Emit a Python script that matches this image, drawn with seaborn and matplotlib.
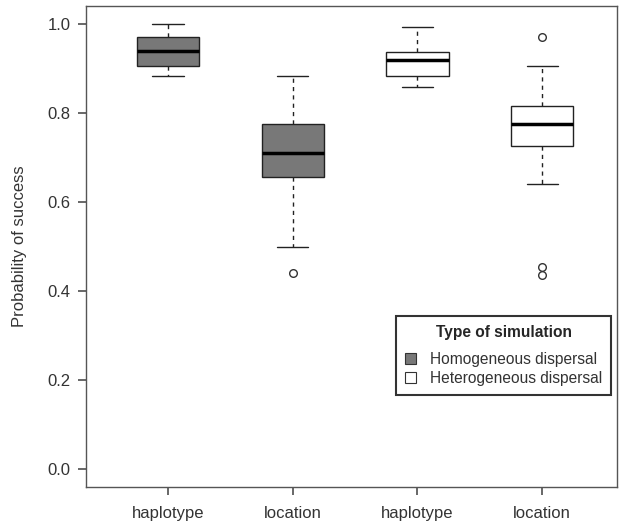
import numpy as np
import pandas as pd
import matplotlib.pyplot as plt
import seaborn as sns
from matplotlib.patches import Patch

# Values (13 per group, chosen to give the drawn quartiles/whiskers/outliers)
homog_haplotype = [0.882, 0.882, 0.882, 0.906, 0.906, 0.938, 0.938, 0.938, 0.970, 0.970, 1.000, 1.000, 1.000]
homog_location = [0.441, 0.500, 0.500, 0.657, 0.657, 0.709, 0.709, 0.709, 0.775, 0.775, 0.882, 0.882, 0.882]
hetero_haplotype = [0.858, 0.858, 0.858, 0.882, 0.882, 0.918, 0.918, 0.918, 0.936, 0.936, 0.993, 0.993, 0.993]
hetero_location = [0.436, 0.455, 0.640, 0.725, 0.725, 0.775, 0.775, 0.775, 0.815, 0.815, 0.906, 0.906, 0.971]

tick_labels = ["haplotype", "location", "haplotype", "location"]
sim_types = ["Homogeneous dispersal", "Heterogeneous dispersal"]
box_colors = {"Homogeneous dispersal": "#787878", "Heterogeneous dispersal": "white"}

groups = [homog_haplotype, homog_location, hetero_haplotype, hetero_location]
group_types = [sim_types[0], sim_types[0], sim_types[1], sim_types[1]]
rows = []
for pos, (vals, t) in enumerate(zip(groups, group_types)):
    for v in vals:
        rows.append({"pos": pos, "value": v, "type": t})
df = pd.DataFrame(rows)

sns.set_theme(style="ticks")
plt.rcParams["font.family"] = ["Liberation Sans", "DejaVu Sans"]

fig = plt.figure(figsize=(6.2, 5.26), dpi=100)
ax = fig.add_axes([0.1387, 0.0741, 0.8565, 0.9145])

sns.boxplot(data=df, x="pos", y="value", hue="type", hue_order=sim_types,
            palette=box_colors, dodge=False, width=0.5, linecolor="#222222",
            linewidth=1.0, legend=False, ax=ax, capwidths=0.25,
            whiskerprops=dict(linestyle=(0, (3, 3))),
            medianprops=dict(linewidth=2.5, color="black"),
            flierprops=dict(marker="o", markerfacecolor="none",
                            markeredgecolor="#333333", markersize=5.5))

ax.set_xlim(-0.658, 3.601)
ax.set_ylim(-0.04, 1.04)
ax.set_xticks(range(4))
ax.set_xticklabels(tick_labels)
ax.set_yticks([0, 0.2, 0.4, 0.6, 0.8, 1.0])
ax.set_yticklabels(["0.0", "0.2", "0.4", "0.6", "0.8", "1.0"])
ax.set_xlabel("")
ax.set_ylabel("Probability of success", fontsize=12, color="#333333")
ax.yaxis.set_label_coords(-0.111, 0.5)

for s in ax.spines.values():
    s.set_visible(True)
    s.set_color("#555555")
    s.set_linewidth(1.0)
ax.tick_params(axis="y", length=6, pad=5, labelsize=12, colors="#555555", labelcolor="#333333")
ax.tick_params(axis="x", length=6, pad=8, labelsize=12, colors="#555555", labelcolor="#333333")

handles = [Patch(facecolor=box_colors[t], edgecolor="#333333", linewidth=0.8, label=t) for t in sim_types]
leg = ax.legend(handles=handles, title="Type of simulation", loc="upper right",
                bbox_to_anchor=(0.989, 0.3555), borderaxespad=0, fontsize=11.2,
                fancybox=False, frameon=True, edgecolor="black",
                handlelength=0.75, handleheight=0.7, handletextpad=0.9,
                borderpad=0.55, labelspacing=0.25,
                title_fontproperties={"weight": "bold", "size": 11.2})
leg._legend_box.sep = 9
leg.get_frame().set_linewidth(1.5)
for txt in leg.get_texts():
    txt.set_color("#333333")

fig.savefig("out.png", dpi=100)
